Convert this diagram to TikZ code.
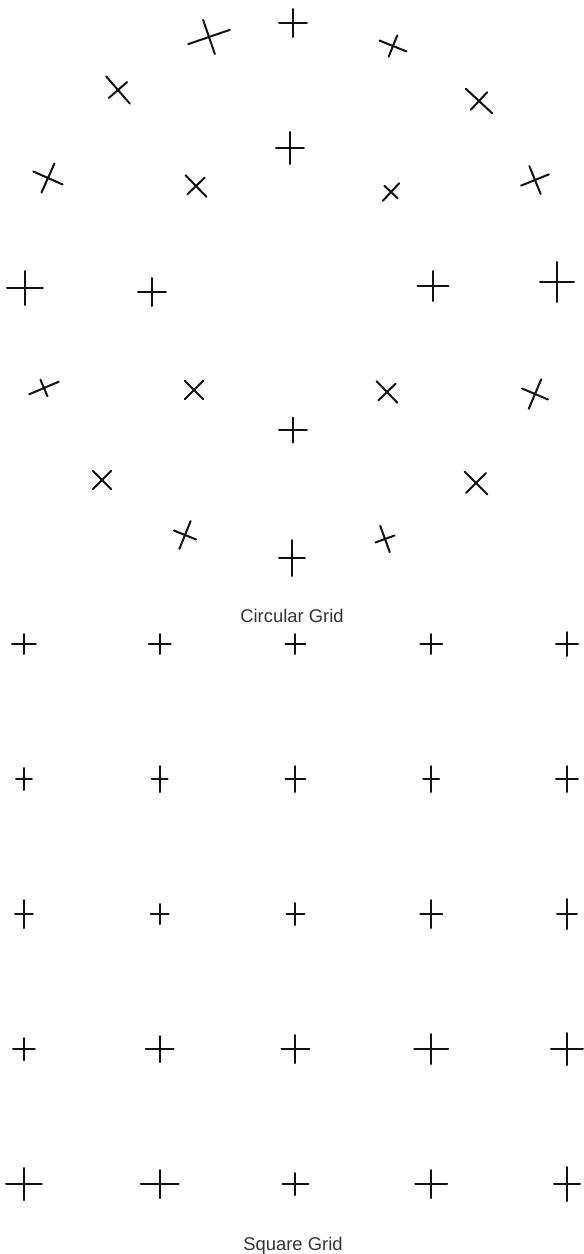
\documentclass[tikz,border=0pt]{standalone}
\usepackage{fontspec}
\setmainfont{Liberation Sans}
\usetikzlibrary{positioning}
\definecolor{inkC}{HTML}{111111}
\definecolor{labelC}{HTML}{333333}
\tikzset{
  crossLine/.style={line width=1.0pt,inkC,line cap=round},
  gridLabel/.style={font=\fontsize{9.2}{11}\selectfont,text=labelC,
                    inner sep=0pt,anchor=base},
}

\begin{document}
\begin{tikzpicture}[x=0.5pt,y=0.5pt]
\useasboundingbox (-290,290) rectangle (294,-964);

% Circular grid: outer ring of 16, inner ring of 8 (x/y/rotation/half arms)
\foreach \x/\y/\r/\a/\b in {
    3/267/0/14/14,     103/244/-22/14.5/11.5, 189/189/-43/18/12,
    245/110/22/15/15,  267/8/0/17/20,          245/-104/-23/14/16,
    186/-193/-45/16/14, 95/-249/20/10/14,       2/-268/0/13/18,
    -105/-245/-22/12/15, -188/-190/45/13/13,   -246/-98/23/16/9,
    -265/2/0/18/17,    -242/112/-24/16/16,     -172/200/-49/18/12,
    -81/253/19/22/18} {
  \draw[crossLine,shift={(\x,\y)},rotate=\r] (-\a,0) -- (\a,0) (0,-\b) -- (0,\b);
}
\foreach \x/\y/\r/\a/\b in {
    0/142/0/14/16,     101/98/-43/9/12,  143/4/0/15.5/15,
    97/-102/-46/15/12, 3/-140/0/14/12.5, -96/-100/45/13/13,
    -138/-2/0/14/14,   -94/104/-46/15/12} {
  \draw[crossLine,shift={(\x,\y)},rotate=\r] (-\a,0) -- (\a,0) (0,-\b) -- (0,\b);
}
\node[gridLabel] (circLabel) at (2,-332) {Circular Grid};

% Square grid, 5 x 5 (column/row/half arms)
\foreach \c/\w/\a/\b in {
    0/0/12/10, 1/0/11/10, 2/0/10/10, 3/0/11/10, 4/0/11/12,
    0/1/8/11,  1/1/8/13,  2/1/10/13, 3/1/8/13,  4/1/11/13,
    0/2/9/14,  1/2/9/10,  2/2/9/11,  3/2/11/14, 4/2/10/15,
    0/3/11/11, 1/3/14/13, 2/3/14/14, 3/3/17/15, 4/3/16/16,
    0/4/18/16, 1/4/19/14, 2/4/13/11, 3/4/16/14, 4/4/13/17} {
  \draw[crossLine,shift={(-266+135.75*\c,-354-135*\w)}]
    (-\a,0) -- (\a,0) (0,-\b) -- (0,\b);
}
\node[gridLabel] (sqLabel) at (3,-960) {Square Grid};

\end{tikzpicture}
\end{document}
